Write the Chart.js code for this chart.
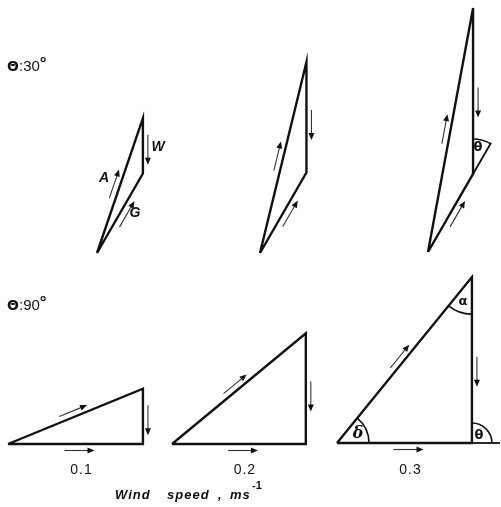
<!DOCTYPE html>
<html>
<head>
<meta charset="utf-8">
<script src="https://cdn.jsdelivr.net/npm/chart.js@4.4.0/dist/chart.umd.min.js"></script>
<style>
  html, body { margin: 0; padding: 0; background: #fff; }
  #wrap { width: 501px; height: 507px; }
</style>
</head>
<body>
<div id="wrap"><canvas id="vectors"></canvas></div>
<script>
// wind speed W (m/s), one per column
const windSpeeds = [0.1, 0.2, 0.3];
// angle theta of the two rows (deg)
const thetas = [30, 90];
// ground speed G (m/s)
const ground30 = [0.166, 0.168, 0.163];
const ground90 = [0.244, 0.242, 0.244];
const vectorNames = ["A", "W", "G"];
const axisWords = ["Wind", "speed", ",", "ms", "-1"];

// layout, px
const PX_PER_MS = 553;
const origins = [
  [[97, 253], [260, 253], [428, 252]],
  [[8, 444], [172, 444], [337, 443]],
];

function triangle(row, col) {
  const [x0, y0] = origins[row][col];
  const th = thetas[row] * Math.PI / 180;
  const g = (row === 0 ? ground30 : ground90)[col] * PX_PER_MS;
  const w = windSpeeds[col] * PX_PER_MS;
  const p0 = { x: x0, y: y0 };
  const p1 = { x: x0 + g * Math.sin(th), y: y0 - g * Math.cos(th) };
  const top = { x: p1.x, y: p1.y - w };
  return { p0, p1, top, th };
}

const tris = [];
for (let r = 0; r < 2; r++) {
  tris.push([]);
  for (let c = 0; c < 3; c++) tris[r].push(triangle(r, c));
}

const datasets = [];
tris.forEach(row => row.forEach(t => {
  datasets.push({
    data: [t.p0, t.top, t.p1, t.p0],
    showLine: true,
    borderColor: "#111",
    borderWidth: 2.4,
    borderJoinStyle: "miter",
    pointRadius: 0,
    tension: 0,
  });
}));
// G continued past the wind vector (theta 30, 0.3)
const tA = tris[0][2];
datasets.push({
  data: [tA.p1, { x: tA.p1.x + 36 * Math.sin(tA.th), y: tA.p1.y - 36 * Math.cos(tA.th) }],
  showLine: true, borderColor: "#111", borderWidth: 1.8, pointRadius: 0,
});
// base line continued (theta 90, 0.3)
const tB = tris[1][2];
datasets.push({
  data: [tB.p1, { x: tB.p1.x + 28, y: tB.p1.y }],
  showLine: true, borderColor: "#111", borderWidth: 1.8, pointRadius: 0,
});

function arrow(ctx, a, b, t, off, away) {
  const dx = b.x - a.x, dy = b.y - a.y, L = Math.hypot(dx, dy);
  const ux = dx / L, uy = dy / L;
  let nx = -uy, ny = ux;
  const cx = a.x + dx * t, cy = a.y + dy * t;
  if ((away.x - cx) * nx + (away.y - cy) * ny > 0) { nx = -nx; ny = -ny; }
  const mx = cx + nx * off, my = cy + ny * off;
  const h = 15;
  const sx = mx - ux * h, sy = my - uy * h, ex = mx + ux * h, ey = my + uy * h;
  ctx.strokeStyle = "#333";
  ctx.lineWidth = 1.1;
  ctx.beginPath();
  ctx.moveTo(sx, sy);
  ctx.lineTo(ex - ux * 4, ey - uy * 4);
  ctx.stroke();
  ctx.fillStyle = "#111";
  ctx.beginPath();
  ctx.moveTo(ex, ey);
  ctx.lineTo(ex - ux * 7 + nx * 3, ey - uy * 7 + ny * 3);
  ctx.lineTo(ex - ux * 7 - nx * 3, ey - uy * 7 - ny * 3);
  ctx.closePath();
  ctx.fill();
}

const decorPlugin = {
  id: "decor",
  afterDatasetsDraw(chart) {
    const ctx = chart.ctx;
    const sx = chart.scales.x, sy = chart.scales.y;
    const px = p => ({ x: sx.getPixelForValue(p.x), y: sy.getPixelForValue(p.y) });
    ctx.save();

    // direction arrows beside each side
    tris.forEach(row => row.forEach(t => {
      const p0 = px(t.p0), p1 = px(t.p1), top = px(t.top);
      arrow(ctx, p0, top, 0.5, 6, p1);   // A
      arrow(ctx, top, p1, 0.57, 5, p0);  // W
      arrow(ctx, p0, p1, 0.53, 6.5, top); // G
    }));

    // angle arcs
    ctx.strokeStyle = "#111";
    ctx.lineWidth = 1.6;
    const arc = (c, r, a0, a1) => { ctx.beginPath(); ctx.arc(c.x, c.y, r, a0, a1); ctx.stroke(); };
    const a1 = px(tA.p1);
    arc(a1, 35, -Math.PI / 2, Math.atan2(-Math.cos(tA.th), Math.sin(tA.th)));
    const b0 = px(tB.p0), b1 = px(tB.p1), bt = px(tB.top);
    arc(bt, 37, Math.PI / 2, Math.atan2(b0.y - bt.y, b0.x - bt.x));
    arc(b0, 32, Math.atan2(bt.y - b0.y, bt.x - b0.x), 0);
    arc(b1, 20, -Math.PI / 2, 0);

    ctx.fillStyle = "#111";
    ctx.textAlign = "center";
    ctx.textBaseline = "middle";

    // vector names on the first triangle
    ctx.font = "italic bold 14px 'Liberation Sans', Arial, sans-serif";
    ctx.fillText(vectorNames[0], 104, 178);
    ctx.fillText(vectorNames[1], 158, 147);
    ctx.fillText(vectorNames[2], 135, 213);

    // angle symbols
    ctx.font = "bold 13px 'DejaVu Sans', sans-serif";
    ctx.fillText("θ", 478, 148);
    ctx.fillText("α", 463, 302);
    ctx.fillText("θ", 479, 436);
    ctx.font = "italic bold 16px 'DejaVu Serif', serif";
    ctx.fillText("δ", 358, 434);

    // row headers
    ctx.textAlign = "left";
    ctx.textBaseline = "alphabetic";
    const rowY = [71, 310];
    thetas.forEach((th, i) => {
      ctx.font = "bold 14px 'DejaVu Sans', sans-serif";
      ctx.fillText("Θ", 7, rowY[i]);
      ctx.font = "15px 'Liberation Sans', Arial, sans-serif";
      ctx.fillText(":" + th, 19, rowY[i]);
      const w = ctx.measureText(":" + th).width;
      ctx.font = "bold 17px 'Liberation Sans', Arial, sans-serif";
      ctx.fillText("°", 19 + w, rowY[i] - 2);
    });

    // wind speed tick labels under each base
    ctx.textAlign = "center";
    ctx.font = "14px 'Liberation Sans', Arial, sans-serif";
    ctx.letterSpacing = "1px";
    tris[1].forEach((t, i) => {
      const p0 = px(t.p0), p1 = px(t.p1);
      ctx.fillText(windSpeeds[i].toFixed(1), (p0.x + p1.x) / 2 + 6, 474);
    });

    // axis title
    ctx.textAlign = "left";
    ctx.font = "italic bold 13px 'Liberation Sans', Arial, sans-serif";
    ctx.fillText(axisWords[0], 115, 499);
    ctx.fillText(axisWords[1], 167, 499);
    ctx.fillText(axisWords[2], 218, 499);
    ctx.fillText(axisWords[3], 230, 499);
    ctx.letterSpacing = "0px";
    ctx.font = "bold 11px 'Liberation Sans', Arial, sans-serif";
    ctx.fillText(axisWords[4], 252, 489);
    ctx.restore();
  },
};

new Chart(document.getElementById("vectors"), {
  type: "scatter",
  data: { datasets },
  options: {
    responsive: true,
    maintainAspectRatio: false,
    animation: false,
    layout: { padding: 0 },
    plugins: { legend: { display: false }, tooltip: { enabled: false } },
    scales: {
      x: { type: "linear", display: false, min: 0, max: 501 },
      y: { type: "linear", display: false, min: 0, max: 507, reverse: true },
    },
  },
  plugins: [decorPlugin],
});
</script>
</body>
</html>
